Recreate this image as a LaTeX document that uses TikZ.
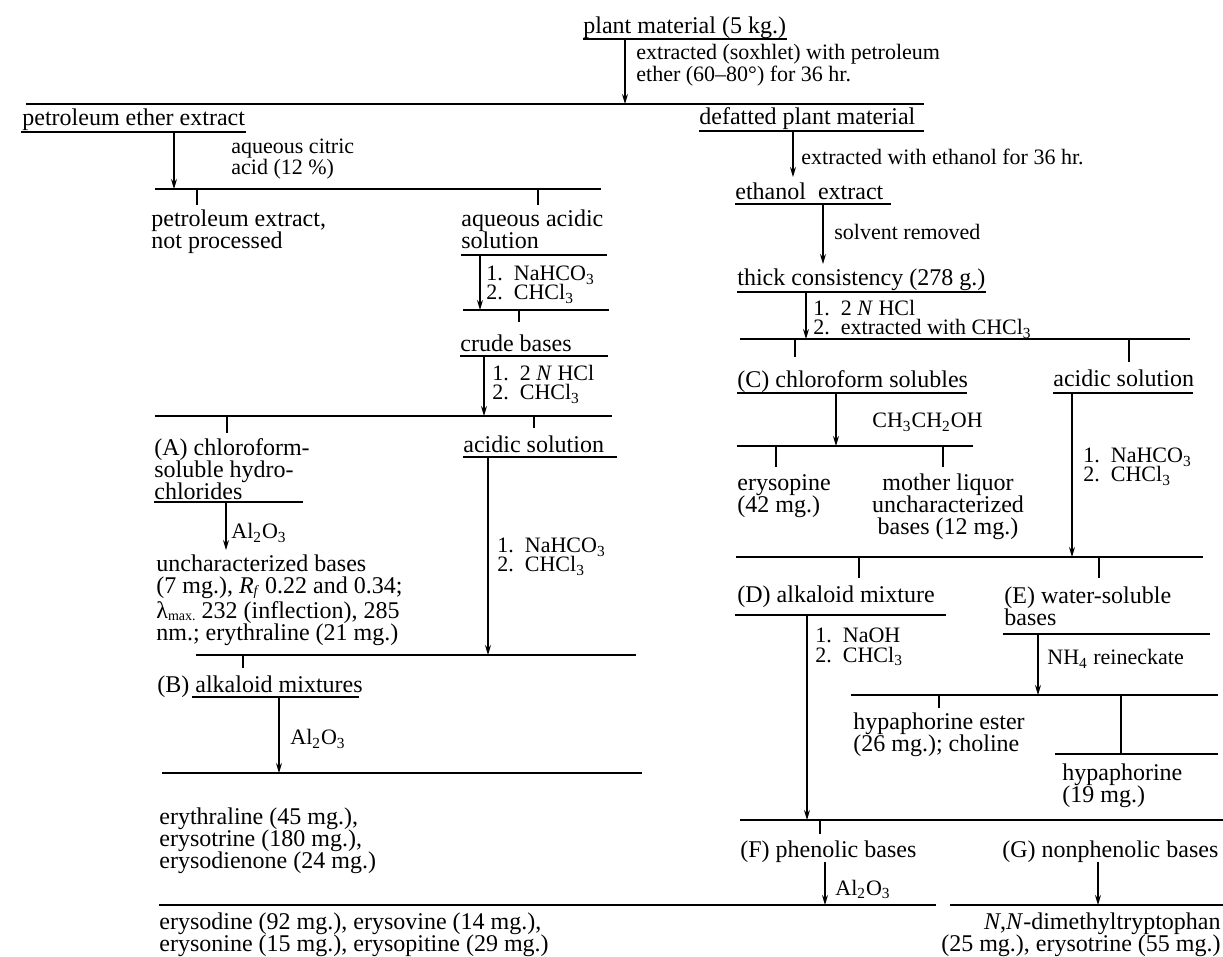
\documentclass[tikz,border=0pt]{standalone}
\usepackage{fontspec}
\setmainfont{Liberation Serif}
\usetikzlibrary{arrows.meta}

\begin{document}
\begin{tikzpicture}[x=0.5pt,y=-0.5pt,
    txt/.style={anchor=base west,inner sep=0pt,align=left,yshift=-1pt,font=\fontsize{12}{11}\selectfont},
    lbl/.style={anchor=base west,inner sep=0pt,align=left,yshift=-1pt,font=\fontsize{11}{9.5}\selectfont},
    bar/.style={line width=0.9pt},
    uline/.style={line width=0.8pt},
    tick/.style={line width=0.7pt},
    flow/.style={line width=0.6pt,-{Stealth[length=5pt,width=3pt]}}]

    \useasboundingbox (0,0) rectangle (1223,957);

    \node[txt] (Plant) at (583,32) {plant material (5 kg.)};
    \draw[uline] (583,39) -- (787,39);
    \coordinate (B1w) at (26,104); \coordinate (B1e) at (924,104);
    \draw[bar] (B1w) -- (B1e);
    \coordinate (a1) at (625,39);
    \draw[flow] (a1) -- (a1 |- B1w);
    \node[lbl] (R1) at (636,80) {extracted (soxhlet) with petroleum\\ether (60–80°) for 36 hr.};

    \node[txt] (PetEther) at (22,124) {petroleum ether extract};
    \draw[uline] (21,132) -- (246,132);
    \coordinate (a2) at (174,132);
    \coordinate (B2w) at (155,189); \coordinate (B2e) at (601,189);
    \draw[bar] (B2w) -- (B2e);
    \draw[flow] (a2) -- (a2 |- B2w);
    \node[lbl] (R2) at (231,173) {aqueous citric\\acid (12 \%)};
    \draw[tick] (197,189) -- (197,205);
    \draw[tick] (538,189) -- (538,205);
    \node[txt] (PetExtract) at (151,247) {petroleum extract,\\not processed};
    \node[txt] (AqAcid) at (461,247) {aqueous acidic\\solution};
    \draw[uline] (461,255) -- (607,255);
    \coordinate (a3) at (480,255);
    \coordinate (B3w) at (463,310); \coordinate (B3e) at (609,310);
    \draw[bar] (B3w) -- (B3e);
    \draw[flow] (a3) -- (a3 |- B3w);
    \node[lbl] (R3) at (486,298) {1.\enspace NaHCO\textsubscript{3}\\2.\enspace CHCl\textsubscript{3}};
    \draw[tick] (519,310) -- (519,322);
    \node[txt] (Crude) at (460,350) {crude bases};
    \draw[uline] (460,356) -- (608,356);
    \coordinate (a4) at (484,356);
    \coordinate (B4w) at (155,416); \coordinate (B4e) at (612,416);
    \draw[bar] (B4w) -- (B4e);
    \draw[flow] (a4) -- (a4 |- B4w);
    \node[lbl] (R4) at (492,398) {1.\enspace 2 \textit{N} HCl\\2.\enspace CHCl\textsubscript{3}};
    \draw[tick] (227,416) -- (227,433);
    \draw[tick] (534,416) -- (534,428);
    \node[txt] (ChloroA) at (154,498) {(A) chloroform-\\soluble hydro-\\chlorides};
    \draw[uline] (154,502) -- (303,502);
    \node[txt] (AcidicA) at (463,451) {acidic solution};
    \draw[uline] (463,457) -- (617,457);
    \coordinate (a5) at (226,502); \coordinate (a5e) at (226,550);
    \draw[flow] (a5) -- (a5e);
    \node[lbl] (R5) at (231,537) {Al\textsubscript{2}O\textsubscript{3}};
    \node[txt] (UnchA) at (156,638) {uncharacterized bases\\(7 mg.), \textit{R}\raisebox{-0.1ex}{\scriptsize\textit{f}} 0.22 and 0.34;\\λ\raisebox{-0.25ex}{\scriptsize max.} 232 (inflection), 285\\nm.; erythraline (21 mg.)};
    \coordinate (a6) at (488,457);
    \coordinate (B5w) at (196,655); \coordinate (B5e) at (636,655);
    \draw[bar] (B5w) -- (B5e);
    \draw[flow] (a6) -- (a6 |- B5w);
    \node[lbl] (R6) at (497,570) {1.\enspace NaHCO\textsubscript{3}\\2.\enspace CHCl\textsubscript{3}};
    \draw[tick] (243,655) -- (243,668);
    \node[txt] (AlkB) at (157,690) {(B) alkaloid mixtures};
    \draw[uline] (192,697) -- (359,697);
    \coordinate (a7) at (279,697);
    \coordinate (B6w) at (162,773); \coordinate (B6e) at (642,773);
    \draw[bar] (B6w) -- (B6e);
    \draw[flow] (a7) -- (a7 |- B6w);
    \node[lbl] (R7) at (290,743) {Al\textsubscript{2}O\textsubscript{3}};
    \node[txt] (ResB) at (159,866) {erythraline (45 mg.),\\erysotrine (180 mg.),\\erysodienone (24 mg.)};
    \coordinate (B7w) at (159,905); \coordinate (B7e) at (936,905);
    \draw[bar] (B7w) -- (B7e);
    \node[txt] (ResF) at (159,949) {erysodine (92 mg.), erysovine (14 mg.),\\erysonine (15 mg.), erysopitine (29 mg.)};

    \node[txt] (Defatted) at (699,123) {defatted plant material};
    \draw[uline] (699,131) -- (924,131);
    \coordinate (a8) at (793,131); \coordinate (a8e) at (793,177);
    \draw[flow] (a8) -- (a8e);
    \node[lbl] (R8) at (801,163) {extracted with ethanol for 36 hr.};
    \node[txt] (Ethanol) at (735,198) {ethanol\ \ extract};
    \draw[uline] (735,204) -- (891,204);
    \coordinate (a9) at (823,204); \coordinate (a9e) at (823,264);
    \draw[flow] (a9) -- (a9e);
    \node[lbl] (R9) at (834,238) {solvent removed};
    \node[txt] (Thick) at (737,284) {thick consistency (278 g.)};
    \draw[uline] (737,292) -- (986,292);
    \coordinate (a10) at (806,292);
    \coordinate (B8w) at (740,339); \coordinate (B8e) at (1190,339);
    \draw[bar] (B8w) -- (B8e);
    \draw[flow] (a10) -- (a10 |- B8w);
    \node[lbl] (R10) at (813,333) {1.\enspace 2 \textit{N} HCl\\2.\enspace extracted with CHCl\textsubscript{3}};
    \draw[tick] (795,339) -- (795,357);
    \draw[tick] (1129,339) -- (1129,362);
    \node[txt] (ChloroC) at (737,386) {(C) chloroform solubles};
    \draw[uline] (737,393) -- (967,393);
    \node[txt] (AcidicC) at (1053,385) {acidic solution};
    \draw[uline] (1053,393) -- (1193,393);
    \coordinate (a11) at (836,393);
    \coordinate (B9w) at (737,446); \coordinate (B9e) at (973,446);
    \draw[bar] (B9w) -- (B9e);
    \draw[flow] (a11) -- (a11 |- B9w);
    \node[lbl] (R11) at (872,426) {CH\textsubscript{3}CH\textsubscript{2}OH};
    \draw[tick] (776,446) -- (776,467);
    \draw[tick] (943,446) -- (943,467);
    \node[txt] (Erysopine) at (737,511) {erysopine\\(42 mg.)};
    \node[txt,anchor=base,align=center] (Mother) at (948,533) {mother liquor\\uncharacterized\\bases (12 mg.)};
    \coordinate (a12) at (1072,393);
    \coordinate (B10w) at (736,557); \coordinate (B10e) at (1203,557);
    \draw[bar] (B10w) -- (B10e);
    \draw[flow] (a12) -- (a12 |- B10w);
    \node[lbl] (R12) at (1083,480) {1.\enspace NaHCO\textsubscript{3}\\2.\enspace CHCl\textsubscript{3}};
    \draw[tick] (859,557) -- (859,578);
    \draw[tick] (1099,557) -- (1099,578);
    \node[txt] (AlkD) at (737,601) {(D) alkaloid mixture};
    \draw[uline] (735,615) -- (946,615);
    \node[txt] (WaterE) at (1004,623) {(E) water-soluble\\bases};
    \draw[uline] (1003,634) -- (1210,634);
    \coordinate (a13) at (807,615);
    \coordinate (a14) at (1038,634);
    \coordinate (B11w) at (851,695); \coordinate (B11e) at (1218,695);
    \draw[bar] (B11w) -- (B11e);
    \draw[flow] (a14) -- (a14 |- B11w);
    \node[lbl] (R14) at (1047,663) {NH\textsubscript{4} reineckate};
    \draw[tick] (939,695) -- (939,708);
    \draw[tick] (1121,695) -- (1121,754);
    \node[txt] (HypEster) at (853,749) {hypaphorine ester\\(26 mg.); choline};
    \coordinate (B12w) at (1055,754); \coordinate (B12e) at (1218,754);
    \draw[bar] (B12w) -- (B12e);
    \node[txt] (Hyp) at (1062,800) {hypaphorine\\(19 mg.)};
    \coordinate (B13w) at (740,820); \coordinate (B13e) at (1223,820);
    \draw[bar] (B13w) -- (B13e);
    \draw[flow] (a13) -- (a13 |- B13w);
    \node[lbl] (R13) at (815,660) {1.\enspace NaOH\\2.\enspace CHCl\textsubscript{3}};
    \draw[tick] (820,820) -- (820,834);
    \node[txt] (PhenF) at (740,855) {(F) phenolic bases};
    \node[txt] (NonphenG) at (1002,855) {(G) nonphenolic bases};
    \coordinate (a15) at (825,862);
    \draw[flow] (a15) -- (a15 |- B7w);
    \node[lbl] (R15) at (835,893) {Al\textsubscript{2}O\textsubscript{3}};
    \coordinate (a16) at (1098,862);
    \coordinate (B14w) at (950,905); \coordinate (B14e) at (1223,905);
    \draw[bar] (B14w) -- (B14e);
    \draw[flow] (a16) -- (a16 |- B14w);
    \node[txt,anchor=base east,align=right] (ResG) at (1221,949) {\textit{N},\textit{N}-dimethyltryptophan\\(25 mg.), erysotrine (55 mg.)};

\end{tikzpicture}
\end{document}
